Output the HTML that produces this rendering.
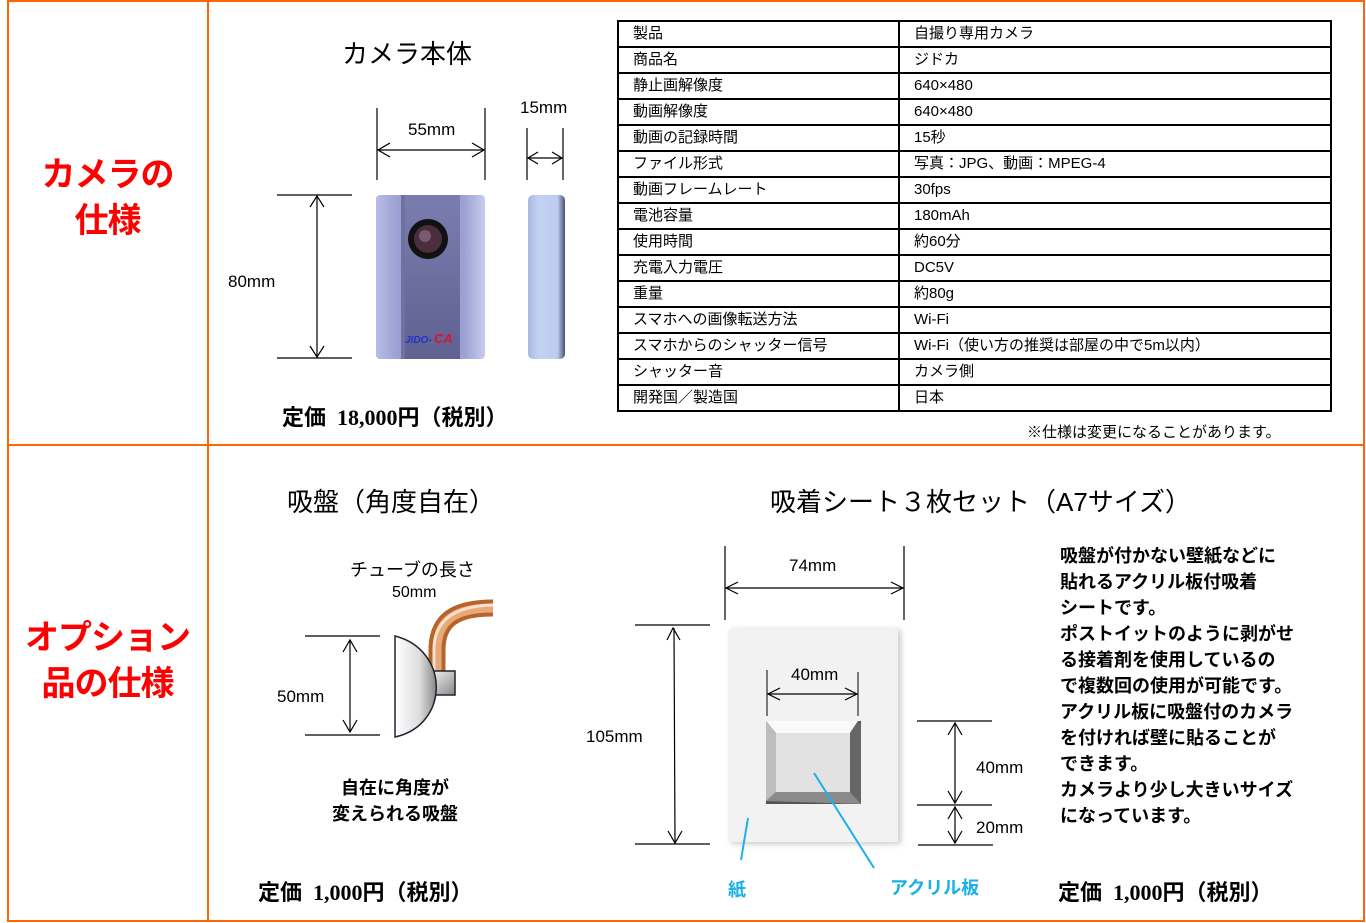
<!DOCTYPE html>
<html><head><meta charset="utf-8"><style>
body{margin:0;width:1366px;height:923px;background:#fff;position:relative;overflow:hidden;font-family:"Liberation Sans","Noto Sans CJK JP",sans-serif;color:#000}
.a{position:absolute;white-space:nowrap;z-index:2}
table{position:absolute;left:617px;top:20px;border-collapse:collapse;font-size:15px}
td{border:2px solid #000;height:24px;padding:0 0 0 14px;line-height:24px}
.red{color:#f00;font-weight:bold;font-size:34px;text-align:center;line-height:46px;letter-spacing:-1px}
.desc{font-size:18px;font-weight:bold;line-height:26px}
.price{font-size:22px;font-weight:bold;font-family:"Liberation Serif","Noto Sans CJK JP",serif}
svg{z-index:1}
</style></head><body>
<div class="a" style="left:7px;top:0;width:1354px;height:918px;border:2px solid #f60"></div>
<div class="a" style="left:207px;top:0;width:2px;height:920px;background:#f60"></div>
<div class="a" style="left:7px;top:444px;width:1358px;height:2px;background:#f60"></div>

<div class="a red" style="left:10px;top:152px;width:195px">カメラの<br>仕様</div>
<div class="a red" style="left:10px;top:615px;width:195px">オプション<br>品の仕様</div>

<div class="a" style="left:342px;top:34px;font-size:26px">カメラ本体</div>
<div class="a" style="left:408px;top:120px;font-size:17px">55mm</div>
<div class="a" style="left:520px;top:98px;font-size:17px">15mm</div>
<div class="a" style="left:228px;top:272px;font-size:17px">80mm</div>
<div class="a price" style="left:282px;top:400px">定価 &nbsp;18,000円（税別）</div>

<table>
<tr><td style="width:265px">製品</td><td style="width:416px">自撮り専用カメラ</td></tr>
<tr><td>商品名</td><td>ジドカ</td></tr>
<tr><td>静止画解像度</td><td>640×480</td></tr>
<tr><td>動画解像度</td><td>640×480</td></tr>
<tr><td>動画の記録時間</td><td>15秒</td></tr>
<tr><td>ファイル形式</td><td>写真：JPG、動画：MPEG-4</td></tr>
<tr><td>動画フレームレート</td><td>30fps</td></tr>
<tr><td>電池容量</td><td>180mAh</td></tr>
<tr><td>使用時間</td><td>約60分</td></tr>
<tr><td>充電入力電圧</td><td>DC5V</td></tr>
<tr><td>重量</td><td>約80g</td></tr>
<tr><td>スマホへの画像転送方法</td><td>Wi-Fi</td></tr>
<tr><td>スマホからのシャッター信号</td><td>Wi-Fi（使い方の推奨は部屋の中で5m以内）</td></tr>
<tr><td>シャッター音</td><td>カメラ側</td></tr>
<tr><td>開発国／製造国</td><td>日本</td></tr>
</table>
<div class="a" style="left:1027px;top:421px;font-size:15px">※仕様は変更になることがあります。</div>

<div class="a" style="left:287px;top:482px;font-size:26px">吸盤（角度自在）</div>
<div class="a" style="left:770px;top:482px;font-size:26px">吸着シート３枚セット（A7サイズ）</div>
<div class="a" style="left:350px;top:556px;font-size:18px">チューブの長さ</div>
<div class="a" style="left:392px;top:584px;font-size:16px">50mm</div>
<div class="a" style="left:277px;top:687px;font-size:17px">50mm</div>
<div class="a" style="left:332px;top:775px;font-size:18px;font-weight:bold;line-height:26px;text-align:center">自在に角度が<br>変えられる吸盤</div>
<div class="a price" style="left:258px;top:875px">定価 &nbsp;1,000円（税別）</div>

<div class="a" style="left:789px;top:556px;font-size:17px">74mm</div>
<div class="a" style="left:791px;top:665px;font-size:17px">40mm</div>
<div class="a" style="left:586px;top:727px;font-size:17px">105mm</div>
<div class="a" style="left:976px;top:758px;font-size:17px">40mm</div>
<div class="a" style="left:976px;top:818px;font-size:17px">20mm</div>
<div class="a" style="left:728px;top:876px;font-size:18px;font-weight:bold;color:#1ab0e8">紙</div>
<div class="a" style="left:890px;top:874px;font-size:18px;font-weight:bold;color:#1ab0e8">アクリル板</div>

<div class="a desc" style="left:1060px;top:543px">吸盤が付かない壁紙などに<br>貼れるアクリル板付吸着<br>シートです。<br>ポストイットのように剥がせ<br>る接着剤を使用しているの<br>で複数回の使用が可能です。<br>アクリル板に吸盤付のカメラ<br>を付ければ壁に貼ることが<br>できます。<br>カメラより少し大きいサイズ<br>になっています。</div>
<div class="a price" style="left:1058px;top:875px">定価 &nbsp;1,000円（税別）</div>

<svg class="a" style="left:0;top:0;z-index:1" width="1366" height="923">
<defs>
<linearGradient id="cb" x1="0" x2="1"><stop offset="0" stop-color="#b8bde6"/><stop offset="0.2" stop-color="#9aa0d2"/><stop offset="0.8" stop-color="#9aa0d2"/><stop offset="1" stop-color="#c8ccef"/></linearGradient>
<linearGradient id="cm" x1="0" y1="0" x2="0" y2="1"><stop offset="0" stop-color="#7a7dae"/><stop offset="1" stop-color="#5f6190"/></linearGradient>
<linearGradient id="sd" x1="0" x2="1"><stop offset="0" stop-color="#a9b8e0"/><stop offset="0.3" stop-color="#c3d3f3"/><stop offset="0.8" stop-color="#bccbef"/><stop offset="1" stop-color="#4a5070"/></linearGradient>
<linearGradient id="cup" x1="0" x2="1"><stop offset="0" stop-color="#fff"/><stop offset="0.6" stop-color="#ddd"/><stop offset="1" stop-color="#888"/></linearGradient>
<linearGradient id="ac" x1="0" y1="0" x2="1" y2="1"><stop offset="0" stop-color="#fafafa"/><stop offset="1" stop-color="#888"/></linearGradient>
<filter id="sh"><feGaussianBlur stdDeviation="3"/></filter>
</defs>
<g stroke="#000" stroke-width="1.2" fill="none">
<line x1="377" y1="108" x2="377" y2="180"/><line x1="485" y1="108" x2="485" y2="180"/>
<line x1="378" y1="150" x2="484" y2="150"/><path d="M390 143 L378 150 L390 157 M472 143 L484 150 L472 157"/>
<line x1="527" y1="128" x2="527" y2="180"/><line x1="563" y1="128" x2="563" y2="180"/>
<line x1="528" y1="158" x2="562" y2="158"/><path d="M538 152 L528 158 L538 164 M552 152 L562 158 L552 164"/>
<line x1="277" y1="195" x2="352" y2="195"/><line x1="277" y1="358" x2="352" y2="358"/>
<line x1="317" y1="196" x2="317" y2="357"/><path d="M310 207 L317 196 L324 207 M310 346 L317 357 L324 346"/>
<line x1="305" y1="636" x2="380" y2="636"/><line x1="305" y1="735" x2="380" y2="735"/>
<line x1="350" y1="640" x2="350" y2="732"/><path d="M343 652 L350 640 L357 652 M343 720 L350 732 L357 720"/>
<line x1="725" y1="546" x2="725" y2="620"/><line x1="904" y1="546" x2="904" y2="620"/>
<line x1="726" y1="588" x2="903" y2="588"/><path d="M738 582 L726 588 L738 594 M891 582 L903 588 L891 594"/>
<line x1="635" y1="625" x2="710" y2="625"/><line x1="635" y1="844" x2="710" y2="844"/>
<line x1="674" y1="628" x2="675" y2="843"/><path d="M667 640 L673 628 L680 640 M668 831 L675 843 L682 831"/>
<line x1="917" y1="721" x2="992" y2="721"/><line x1="917" y1="805" x2="992" y2="805"/><line x1="918" y1="845" x2="993" y2="845"/>
<line x1="955" y1="723" x2="955" y2="803"/><path d="M948 735 L955 723 L962 735 M948 791 L955 803 L962 791"/>
<line x1="955" y1="807" x2="955" y2="843"/><path d="M948 819 L955 807 L962 819 M948 831 L955 843 L962 831"/>
</g>
<rect x="376" y="195" width="109" height="164" rx="4" fill="url(#cb)"/>
<rect x="401" y="195" width="59" height="164" fill="url(#cm)"/>
<rect x="401" y="195" width="4" height="164" fill="#6f72a0"/>
<circle cx="428" cy="239" r="20" fill="#111"/><circle cx="428" cy="239" r="14" fill="#4a2e3e"/><circle cx="425" cy="236" r="6" fill="#7a5a6e"/>
<text x="405" y="343" font-family="Liberation Sans" font-size="10" font-weight="bold" font-style="italic" fill="#2233cc">JIDO-</text>
<text x="434" y="343" font-family="Liberation Sans" font-size="13" font-weight="bold" font-style="italic" fill="#dd1133">CA</text>
<rect x="528" y="195" width="37" height="164" rx="5" fill="url(#sd)"/>
<!-- tube -->
<path d="M437 672 L437 650 C437 620 455 608 493 608" stroke="#b5652c" stroke-width="17" fill="none"/>
<path d="M437 672 L437 650 C437 620 455 608 493 608" stroke="#e9a878" stroke-width="9" fill="none"/>
<path d="M434 672 L434 650 C434 622 452 606 493 605" stroke="#f8e0cc" stroke-width="3" fill="none"/>
<rect x="428" y="671" width="27" height="24" fill="url(#ac)" stroke="#223" stroke-width="1.5"/>
<path d="M395 636 C450 650 450 725 395 737 Z" fill="url(#cup)" stroke="#223" stroke-width="1.5"/>
<!-- sheet -->
<rect x="731" y="630" width="170" height="214" fill="#999" filter="url(#sh)" opacity="0.5"/>
<rect x="730" y="629" width="168" height="213" fill="#f2f2f2"/>
<line x1="767" y1="670" x2="767" y2="716" stroke="#000"/><line x1="858" y1="672" x2="858" y2="716" stroke="#000"/>
<line x1="768" y1="694" x2="857" y2="694" stroke="#000" stroke-width="1.2"/><path d="M780 688 L768 694 L780 700 M845 688 L857 694 L845 700" stroke="#000" fill="none" stroke-width="1.2"/>
<rect x="766" y="721" width="95" height="83" fill="#555"/>
<polygon points="766,721 858,721 850,733 776,733" fill="#fafafa"/>
<polygon points="766,721 776,733 776,792 766,801" fill="#bdbdbd"/>
<polygon points="858,721 861,724 861,804 850,792 850,733" fill="#666"/>
<polygon points="766,801 776,792 850,792 861,804" fill="#8a8a8a"/>
<rect x="776" y="733" width="74" height="59" fill="#e2e2e2"/>
<line x1="814" y1="773" x2="874" y2="868" stroke="#1ab0e8" stroke-width="2"/>
<line x1="748" y1="818" x2="741" y2="860" stroke="#1ab0e8" stroke-width="2"/>
</svg>
</body></html>
